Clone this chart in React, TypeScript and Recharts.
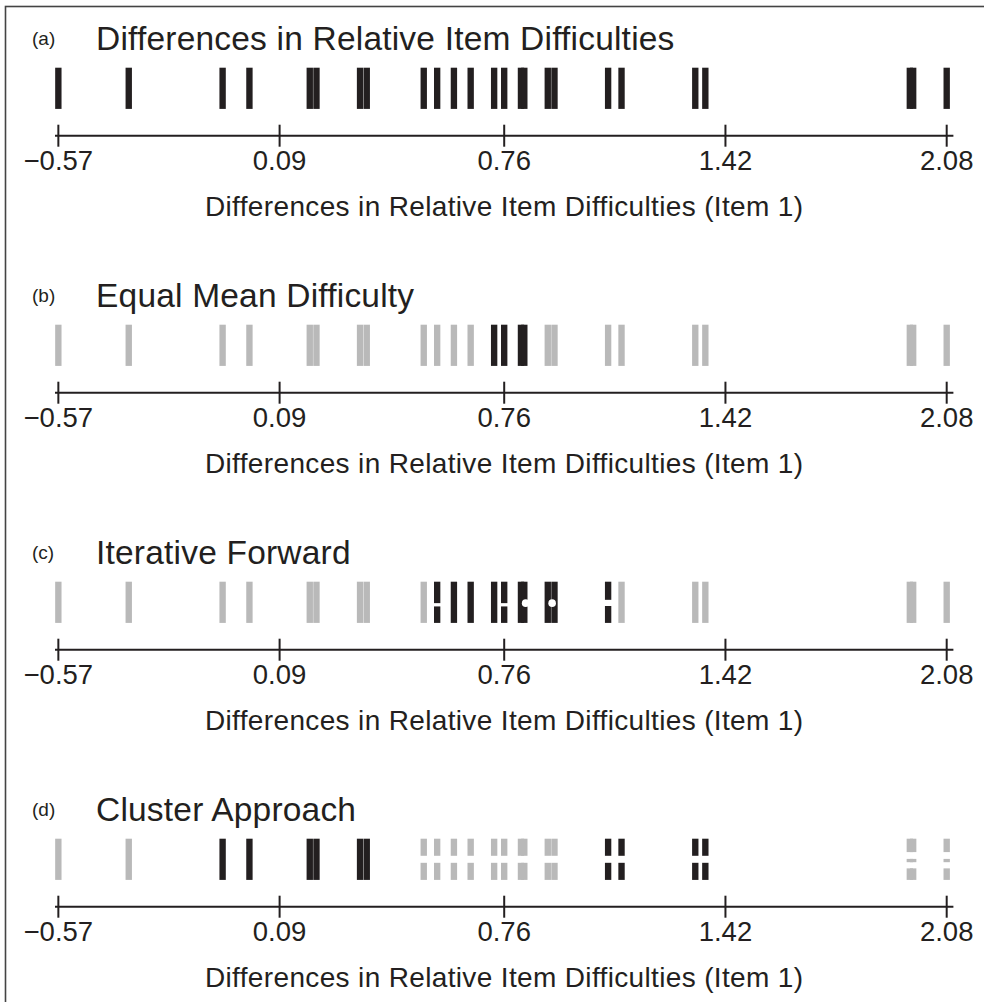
import React from "react";
import { ScatterChart, Scatter, XAxis, YAxis, ReferenceArea } from "recharts";

const INK = "#231f20";
const GREY = "#b9b9b9";
const FONT = "'Liberation Sans', Arial, Helvetica, sans-serif";

const W = 984;
const PANEL_H = 257.1;

// axis ticks shown under every strip
const TICKS = [-0.57, 0.09, 0.76, 1.42, 2.08];

// differences in relative item difficulties, one per item
const DIFFS = [
  -0.57, -0.36, -0.08, 0.0, 0.18, 0.2, 0.33, 0.35, 0.52, 0.56, 0.61, 0.66, 0.73,
  0.76, 0.81, 0.82, 0.89, 0.91, 1.07, 1.11, 1.33, 1.36, 1.97, 1.98, 2.08,
];

// k = black (selected), g = grey
const SHADE_A = ["k","k","k","k","k","k","k","k","k","k","k","k","k","k","k","k","k","k","k","k","k","k","k","k","k"];
const SHADE_B = ["g","g","g","g","g","g","g","g","g","g","g","g","k","k","k","k","g","g","g","g","g","g","g","g","g"];
const SHADE_C = ["g","g","g","g","g","g","g","g","g","k","k","k","k","k","k","k","k","k","k","g","g","g","g","g","g"];
const SHADE_D = ["g","g","k","k","k","k","k","k","g","g","g","g","g","g","g","g","g","g","k","k","k","k","g","g","g"];

// how each bar is cut into pieces
const CUT_A = DIFFS.map(() => "full");
const CUT_B = DIFFS.map(() => "full");
const CUT_C = ["full","full","full","full","full","full","full","full","full","mid","full","full","full","mid","full","full","full","full","wide","full","full","full","full","full","full"];
const CUT_D = ["full","full","full","full","full","full","full","full","half","half","half","half","half","half","half","half","half","half","half","half","half","half","three","three","three"];

// pieces in bar-height units (0 = foot, 1 = top)
const PIECES: Record<string, number[][]> = {
  full: [[0, 1]],
  mid: [[0, 0.4], [0.48, 1]],
  wide: [[0, 0.41], [0.56, 1]],
  half: [[0, 0.415], [0.585, 1]],
  three: [[0, 0.28], [0.43, 0.51], [0.675, 1]],
};

// white markers sitting on two of the bars in panel (c)
const HOLES_C = [
  { x: 0.824, y: 0.48 },
  { x: 0.903, y: 0.48 },
];

const BAR_W = 0.019;

const PANELS = [
  { tag: "(a)", title: "Differences in Relative Item Difficulties", shade: SHADE_A, cut: CUT_A, holes: [] as { x: number; y: number }[] },
  { tag: "(b)", title: "Equal Mean Difficulty", shade: SHADE_B, cut: CUT_B, holes: [] },
  { tag: "(c)", title: "Iterative Forward", shade: SHADE_C, cut: CUT_C, holes: HOLES_C },
  { tag: "(d)", title: "Cluster Approach", shade: SHADE_D, cut: CUT_D, holes: [] },
];

function fmt(v: number) {
  return v < 0 ? `\u2212${Math.abs(v).toFixed(2)}` : v.toFixed(2);
}

function Tick(props: any) {
  const { x, y, payload } = props;
  return (
    <g>
      <line x1={x} x2={x} y1={y - 11} y2={y + 11} stroke={INK} strokeWidth={2} />
      <text x={x} y={y + 34} textAnchor="middle" fontSize={27.5} fill={INK} fontFamily={FONT}>
        {fmt(payload.value)}
      </text>
    </g>
  );
}

function AxisTitle(props: any) {
  const vb = props.viewBox || {};
  const cx = vb.x + vb.width / 2;
  return (
    <text x={cx} y={vb.y + 80} textAnchor="middle" fontSize={28} fill={INK} fontFamily={FONT} letterSpacing={0.35}>
      Differences in Relative Item Difficulties (Item 1)
    </text>
  );
}

function Hole(props: any) {
  const { cx, cy } = props;
  return <circle cx={cx} cy={cy} r={3.8} fill="#fff" />;
}

function Panel({ p, top }: { p: (typeof PANELS)[number]; top: number }) {
  const rects: React.ReactNode[] = [];
  DIFFS.forEach((v, i) => {
    const fill = p.shade[i] === "k" ? INK : GREY;
    PIECES[p.cut[i]].forEach(([y0, y1], j) => {
      rects.push(
        <ReferenceArea
          key={`${i}-${j}`}
          x1={v - BAR_W / 2}
          x2={v + BAR_W / 2}
          y1={y0}
          y2={y1}
          fill={fill}
          fillOpacity={1}
          stroke="none"
          ifOverflow="visible"
        />
      );
    });
  });
  const anchor = DIFFS.map((v) => ({ x: v, y: 0.5 }));
  return (
    <div style={{ position: "absolute", left: 0, top, width: W, height: 257 }}>
      <ScatterChart width={W} height={257} margin={{ top: 67.7, right: 30.6, bottom: 21.3, left: 55 }}>
        <XAxis
          type="number"
          dataKey="x"
          domain={[-0.58, 2.1]}
          ticks={TICKS}
          interval={0}
          allowDataOverflow
          tickSize={0}
          tickMargin={0}
          tick={<Tick />}
          tickLine={false}
          axisLine={{ stroke: INK, strokeWidth: 2 }}
          height={100}
          label={<AxisTitle />}
        />
        <YAxis type="number" dataKey="y" domain={[-0.65, 1]} hide allowDataOverflow />
        {rects}
        <Scatter data={anchor} fill="none" shape={() => <g />} isAnimationActive={false} />
        <Scatter data={p.holes} fill="#fff" shape={<Hole />} isAnimationActive={false} />
      </ScatterChart>
    </div>
  );
}

export default function App() {
  return (
    <div style={{ position: "absolute", left: 0, top: 0, width: W, height: 1002, background: "#fff", overflow: "hidden", fontFamily: FONT }}>
      <svg width={W} height={1002} style={{ position: "absolute", left: 0, top: 0 }}>
        <rect x={5.5} y={6.5} width={1000} height={1010} fill="none" stroke="#444" strokeWidth={1.6} />
        {PANELS.map((p, i) => (
          <g key={p.tag}>
            <text x={32} y={45 + i * PANEL_H} fontSize={19} fill={INK} fontFamily={FONT}>
              {p.tag}
            </text>
            <text x={96} y={50 + i * PANEL_H} fontSize={33.5} fill={INK} fontFamily={FONT} letterSpacing={0.2}>
              {p.title}
            </text>
          </g>
        ))}
      </svg>
      {PANELS.map((p, i) => (
        <Panel key={p.tag} p={p} top={i * PANEL_H} />
      ))}
    </div>
  );
}
